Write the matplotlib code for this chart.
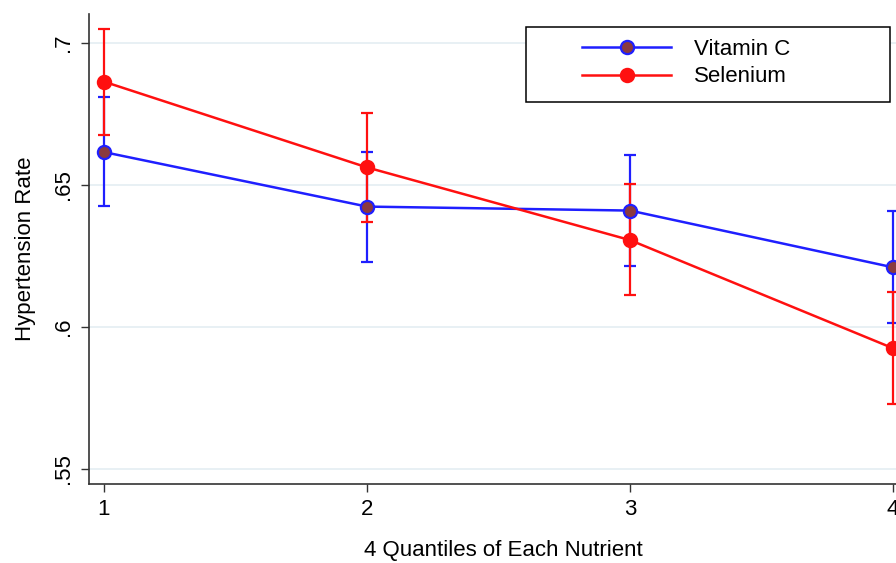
import matplotlib
matplotlib.use("Agg")
from matplotlib import pyplot as plt
from matplotlib.patches import Rectangle

plt.rcParams['font.family'] = ['Liberation Sans', 'DejaVu Sans']

# quantile positions and tick labels
quantiles = [1, 2, 3, 4]
y_ticks = [0.55, 0.60, 0.65, 0.70]
y_tick_labels = ['.55', '.6', '.65', '.7']

# means with upper / lower confidence limits
vitc_mean = [0.6616, 0.6424, 0.6410, 0.6210]
vitc_hi = [0.6810, 0.6616, 0.6605, 0.6408]
vitc_lo = [0.6426, 0.6230, 0.6215, 0.6015]

selen_mean = [0.6864, 0.6562, 0.6306, 0.5925]
selen_hi = [0.7050, 0.6754, 0.6503, 0.6124]
selen_lo = [0.6676, 0.6371, 0.6113, 0.5729]

fig = plt.figure(figsize=(8.96, 5.63), dpi=100)
ax = fig.add_axes([0.0993, 0.1403, 0.9007, 0.8347])

# stata-like light grid
for yt in y_ticks:
	ax.axhline(yt, color='#e4edf2', lw=1.2, zorder=0)

def draw_series(mean, lo, hi, color, face, label):
	err = [[m - l for m, l in zip(mean, lo)], [h - m for m, h in zip(mean, hi)]]
	ax.errorbar(quantiles, mean, yerr=err, fmt='none', ecolor=color,
		elinewidth=1.6, capsize=4, capthick=1.6, zorder=2)
	ax.plot(quantiles, mean, color=color, lw=1.8, marker='o', markersize=9.5,
		markerfacecolor=face, markeredgecolor=color, markeredgewidth=1.6,
		label=label, zorder=3)

draw_series(vitc_mean, vitc_lo, vitc_hi, '#1f1fff', '#8a3a40', 'Vitamin C')
draw_series(selen_mean, selen_lo, selen_hi, '#ff1010', '#ff1010', 'Selenium')

ax.set_xlim(0.943, 4.011)
ax.set_ylim(0.5447, 0.7102)
ax.set_xticks(quantiles)
ax.set_xticklabels([str(q) for q in quantiles], fontsize=16)
ax.set_yticks(y_ticks)
ax.set_yticklabels(y_tick_labels, fontsize=16, rotation=90, va='center')
ax.tick_params(axis='both', length=6, width=1, color='#333333', pad=5)

for side in ['top', 'right']:
	ax.spines[side].set_visible(False)
for side in ['left', 'bottom']:
	ax.spines[side].set_linewidth(1.2)
	ax.spines[side].set_color('#333333')

# the original plot region runs past the right edge, so the title sits right of centre
ax.set_xlabel('4 Quantiles of Each Nutrient', fontsize=16, labelpad=14)
ax.xaxis.set_label_coords(0.514, -0.12)
ax.set_ylabel('Hypertension Rate', fontsize=16, labelpad=12)

# legend: white box with black frame, entries centered in it
box = Rectangle((0.5415, 0.8128), 0.4511, 0.1595, transform=ax.transAxes,
	facecolor='white', edgecolor='black', lw=1.1, zorder=4, clip_on=False)
ax.add_patch(box)
leg = ax.legend(loc='center left', bbox_to_anchor=(0.611, 0.896), frameon=False,
	fontsize=16, handlelength=4.0, handletextpad=1.05, labelspacing=0.3,
	borderpad=0, borderaxespad=0)
leg.set_zorder(5)

fig.savefig('out.png', dpi=100)
